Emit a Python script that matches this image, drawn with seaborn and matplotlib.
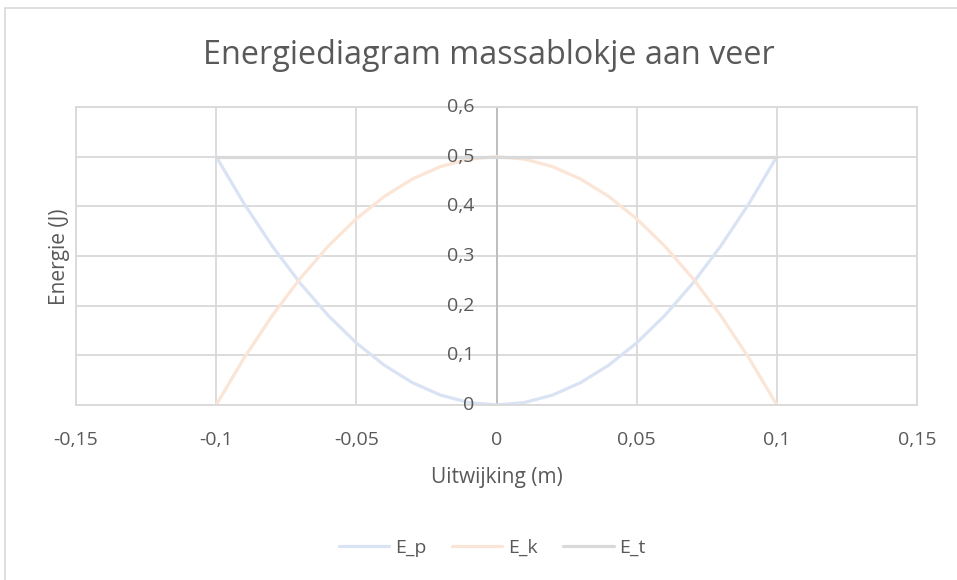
import matplotlib
matplotlib.use("Agg")
import matplotlib.pyplot as plt
import matplotlib.ticker as mticker
import matplotlib.transforms as mtransforms
from matplotlib.patches import Rectangle
import pandas as pd
import seaborn as sns

# uitwijking (m) en energieën (J)
uitwijking = [-0.10, -0.09, -0.08, -0.07, -0.06, -0.05, -0.04, -0.03, -0.02, -0.01, 0.00,
              0.01, 0.02, 0.03, 0.04, 0.05, 0.06, 0.07, 0.08, 0.09, 0.10]
e_p = [0.500, 0.405, 0.320, 0.245, 0.180, 0.125, 0.080, 0.045, 0.020, 0.005, 0.000,
       0.005, 0.020, 0.045, 0.080, 0.125, 0.180, 0.245, 0.320, 0.405, 0.500]
e_k = [0.000, 0.095, 0.180, 0.255, 0.320, 0.375, 0.420, 0.455, 0.480, 0.495, 0.500,
       0.495, 0.480, 0.455, 0.420, 0.375, 0.320, 0.255, 0.180, 0.095, 0.000]
e_t = [0.5] * len(uitwijking)

series = ["E_p", "E_k", "E_t"]
colors = ["#dae3f3", "#fbe5d6", "#d9d9d9"]
y_ticks = [0, 0.1, 0.2, 0.3, 0.4, 0.5, 0.6]

df = pd.DataFrame({"x": uitwijking, "E_p": e_p, "E_k": e_k, "E_t": e_t})
long = df.melt(id_vars="x", var_name="serie", value_name="energie")

sns.set_style("white")
plt.rcParams["font.family"] = ["Open Sans", "DejaVu Sans"]
text_col = "#595959"
grid_col = "#d9d9d9"

fig = plt.figure(figsize=(9.57, 5.8), dpi=100)
fig.patches.append(Rectangle((5 / 957, -0.1), 1.1, 1 - 8 / 580 + 0.1,
                             transform=fig.transFigure, fill=False,
                             edgecolor="#d9d9d9", linewidth=1.2))
ax = fig.add_axes([76 / 957, 1 - 405 / 580, (917 - 76) / 957, (405 - 107) / 580])

sns.lineplot(data=long, x="x", y="energie", hue="serie", hue_order=series,
             palette=colors, linewidth=2.3, ax=ax, legend=True)

ax.set_xlim(-0.15, 0.15)
ax.set_ylim(0, 0.6)
ax.xaxis.set_major_locator(mticker.MultipleLocator(0.05))
ax.set_yticks(y_ticks)
fmt = lambda v, p=None: ("%g" % round(v, 2)).replace(".", ",")
ax.xaxis.set_major_formatter(mticker.FuncFormatter(fmt))
ax.set_yticklabels([])
ax.grid(True, color=grid_col, linewidth=1.3)
ax.set_axisbelow(True)

for s in ["top", "right", "bottom", "left"]:
    ax.spines[s].set_color(grid_col)
    ax.spines[s].set_linewidth(1.3)
ax.axvline(0, color="#bfbfbf", linewidth=1.4, zorder=1.5)

# y-waarden naast de verticale as bij x = 0
off = mtransforms.offset_copy(ax.transData, fig=fig, x=-16, y=0, units="points")
for v in y_ticks:
    ax.text(0, v, fmt(v), transform=off, ha="right", va="center",
            fontsize=14, color=text_col)

ax.tick_params(axis="both", length=0, labelsize=14, labelcolor=text_col)
ax.tick_params(axis="x", pad=19)

ax.set_xlabel("Uitwijking (m)", fontsize=15, color=text_col, labelpad=13)
ax.set_ylabel("")
fig.text(60 / 957, 1 - 257 / 580, "Energie (J)", rotation=90, ha="center",
         va="center", fontsize=15, color=text_col)
fig.text(489 / 957, 1 - 56 / 580, "Energiediagram massablokje aan veer",
         ha="center", va="center", fontsize=23.3, color=text_col)

handles, labels = ax.get_legend_handles_labels()
ax.legend(handles, labels, loc="center", bbox_to_anchor=(0.495, -0.48), ncol=3,
          frameon=False, fontsize=14, labelcolor=text_col, handlelength=2.6,
          columnspacing=1.3, handletextpad=0.3)

fig.savefig("out.png", dpi=100)
